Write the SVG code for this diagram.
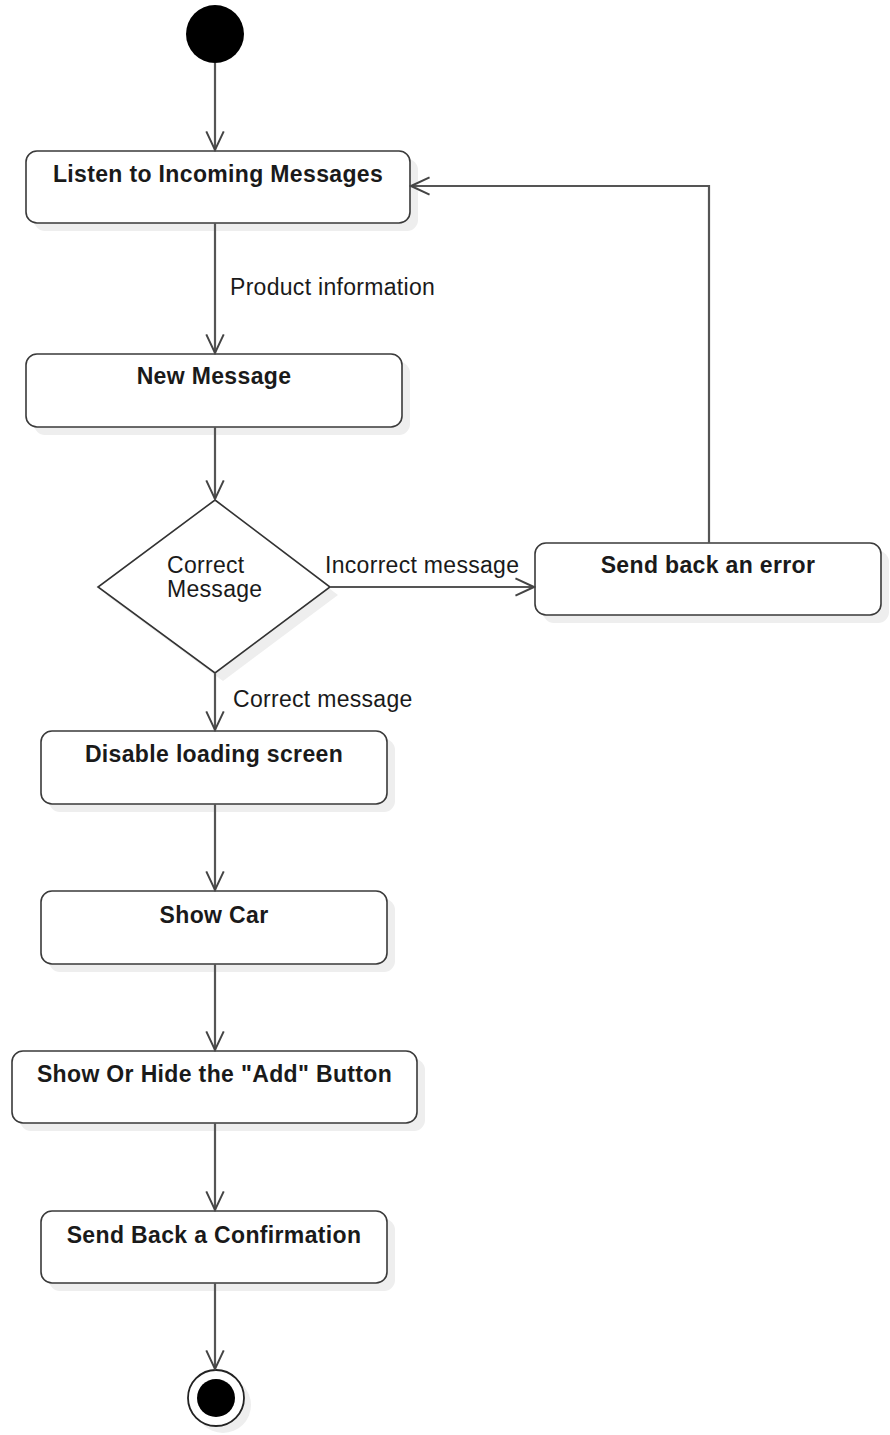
<svg xmlns="http://www.w3.org/2000/svg" width="890" height="1435" viewBox="0 0 890 1435">
  <style>
    .shadow { fill: #eeeeee; stroke: none; }
    .box { fill: #ffffff; stroke: #3a3a3a; stroke-width: 1.6; }
    .title { font-family: "Liberation Sans", Arial, sans-serif; font-weight: bold; font-size: 23px; letter-spacing: 0.35px; fill: #1a1a1a; text-anchor: middle; }
    .label { font-family: "Liberation Sans", Arial, sans-serif; font-size: 23px; letter-spacing: 0.3px; fill: #1a1a1a; }
    .edge { fill: none; stroke: #555555; stroke-width: 2.2; }
  </style>
  <defs>
    <marker id="open-arrow" markerUnits="userSpaceOnUse" markerWidth="24" markerHeight="24" viewBox="-20 -10 22 20" refX="0" refY="0" orient="auto">
      <path d="M -17 -8 L 0 0 L -17 8" fill="none" stroke="#444444" stroke-width="1.8"/>
    </marker>
  </defs>

  <rect width="890" height="1435" fill="#ffffff"/>

  <!-- initial state -->
  <g id="start">
    <circle cx="215" cy="34" r="29" fill="#000000"/>
  </g>

  <!-- activities -->
  <g id="listen">
    <rect class="shadow" x="34" y="159" width="384" height="72" rx="11"/>
    <rect class="box" x="26" y="151" width="384" height="72" rx="11"/>
    <text class="title" x="218" y="182">Listen to Incoming Messages</text>
  </g>

  <g id="new-message">
    <rect class="shadow" x="34" y="362" width="376" height="73" rx="11"/>
    <rect class="box" x="26" y="354" width="376" height="73" rx="11"/>
    <text class="title" x="214" y="384">New Message</text>
  </g>

  <g id="decision">
    <polygon class="shadow" points="223,508 338,595 223,681 106,595"/>
    <polygon points="215,500 330,587 215,673 98,587" fill="#ffffff" stroke="#333333" stroke-width="1.6"/>
    <text class="label" x="167" y="573">Correct</text>
    <text class="label" x="167" y="597">Message</text>
  </g>

  <g id="send-error">
    <rect class="shadow" x="543" y="551" width="346" height="72" rx="11"/>
    <rect class="box" x="535" y="543" width="346" height="72" rx="11"/>
    <text class="title" x="708" y="573">Send back an error</text>
  </g>

  <g id="disable-loading">
    <rect class="shadow" x="49" y="739" width="346" height="73" rx="11"/>
    <rect class="box" x="41" y="731" width="346" height="73" rx="11"/>
    <text class="title" x="214" y="762">Disable loading screen</text>
  </g>

  <g id="show-car">
    <rect class="shadow" x="49" y="899" width="346" height="73" rx="11"/>
    <rect class="box" x="41" y="891" width="346" height="73" rx="11"/>
    <text class="title" x="214" y="923">Show Car</text>
  </g>

  <g id="toggle-add">
    <rect class="shadow" x="20" y="1059" width="405" height="72" rx="11"/>
    <rect class="box" x="12" y="1051" width="405" height="72" rx="11"/>
    <text class="title" x="214.5" y="1082">Show Or Hide the "Add" Button</text>
  </g>

  <g id="send-confirmation">
    <rect class="shadow" x="49" y="1219" width="346" height="72" rx="11"/>
    <rect class="box" x="41" y="1211" width="346" height="72" rx="11"/>
    <text class="title" x="214" y="1243">Send Back a Confirmation</text>
  </g>

  <!-- final state -->
  <g id="end">
    <circle class="shadow" cx="223" cy="1405" r="28"/>
    <circle cx="216" cy="1398" r="28" fill="#ffffff" stroke="#222222" stroke-width="1.8"/>
    <circle cx="216" cy="1398" r="19" fill="#000000"/>
  </g>

  <!-- transitions -->
  <g id="connectors">
    <path class="edge" d="M 215 63 L 215 150" marker-end="url(#open-arrow)"/>
    <path class="edge" d="M 215 223 L 215 353" marker-end="url(#open-arrow)"/>
    <path class="edge" d="M 215 427 L 215 499" marker-end="url(#open-arrow)"/>
    <path class="edge" d="M 330 587 L 534 587" marker-end="url(#open-arrow)"/>
    <path class="edge" d="M 709 543 L 709 186 L 411 186" marker-end="url(#open-arrow)"/>
    <path class="edge" d="M 215 673 L 215 730" marker-end="url(#open-arrow)"/>
    <path class="edge" d="M 215 804 L 215 890" marker-end="url(#open-arrow)"/>
    <path class="edge" d="M 215 964 L 215 1050" marker-end="url(#open-arrow)"/>
    <path class="edge" d="M 215 1123 L 215 1210" marker-end="url(#open-arrow)"/>
    <path class="edge" d="M 215 1283 L 215 1369" marker-end="url(#open-arrow)"/>
    <text class="label" x="230" y="295">Product information</text>
    <text class="label" x="325" y="573">Incorrect message</text>
    <text class="label" x="233" y="707">Correct message</text>
  </g>
</svg>
